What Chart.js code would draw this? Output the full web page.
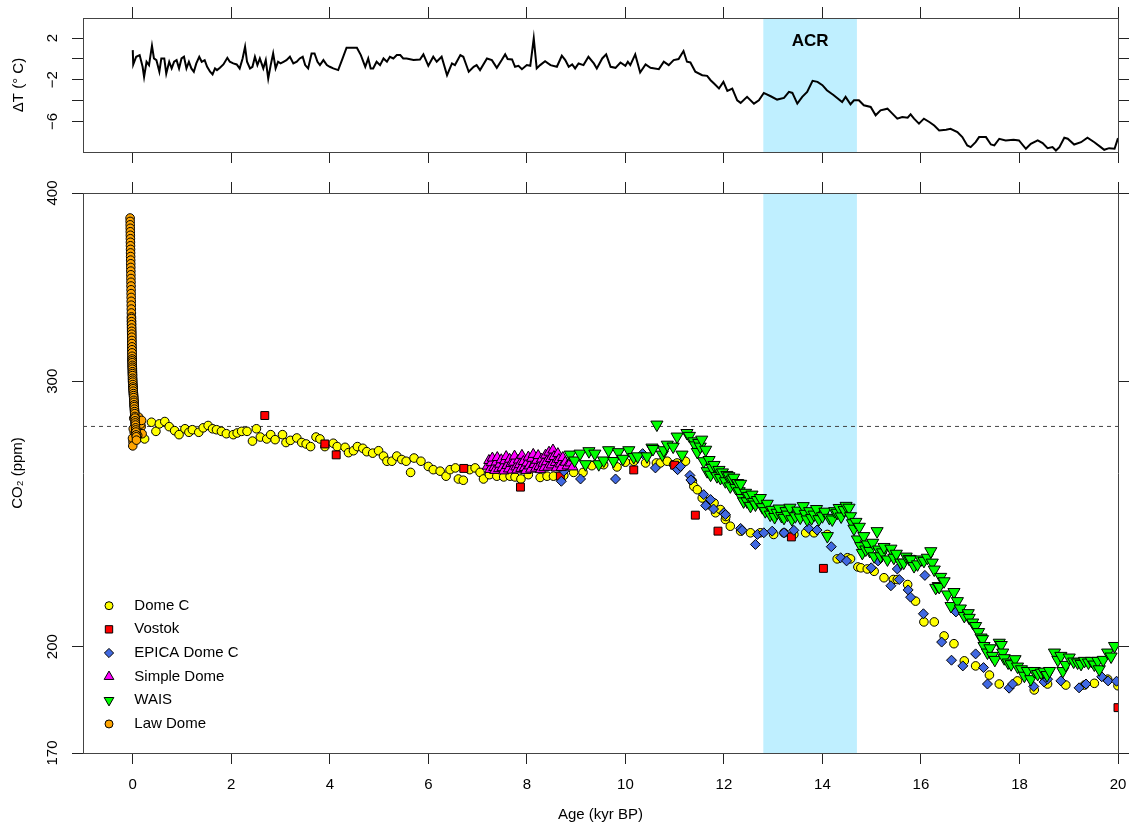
<!DOCTYPE html>
<html>
<head>
<meta charset="utf-8">
<script src="https://cdn.jsdelivr.net/npm/chart.js@4.4.1/dist/chart.umd.min.js"></script>
<style>
html,body{margin:0;padding:0;background:#fff;}
#wrap{position:relative;width:1134px;height:827px;overflow:hidden;}
#cTop{position:absolute;left:0;top:0;width:1134px;height:170px;}
#cBot{position:absolute;left:0;top:170px;width:1134px;height:657px;}
</style>
</head>
<body>
<div id="wrap">
<canvas id="cTop" width="1134" height="170"></canvas>
<canvas id="cBot" width="1134" height="657"></canvas>
</div>
<script>
// ---------------- data (age in kyr BP) ----------------
const xTicks = [0, 2, 4, 6, 8, 10, 12, 14, 16, 18, 20];
const xTickLabels = ['0', '2', '4', '6', '8', '10', '12', '14', '16', '18', '20'];
const co2Ticks = [170, 200, 300, 400];
const co2TickLabels = ['170', '200', '300', '400'];
const tempTicks = [-6, -4, -2, 0, 2];
const tempTickLabels = ['\u22126', '', '\u22122', '', '2'];
const acrRange = [12.8, 14.7];
const preindustrialCO2 = 280;
const seriesNames = ['Dome C', 'Vostok', 'EPICA Dome C', 'Simple Dome', 'WAIS', 'Law Dome'];

// Temperature anomaly (age, dT)
const tempSeries = [
[0.00,0.84],[0.01,-0.54],[0.07,0.20],[0.14,0.36],[0.20,-0.76],[0.23,-1.73],[0.28,-0.28],[0.33,-0.60],[0.39,1.26],[0.43,0.04],
[0.48,-0.12],[0.54,-1.24],[0.58,0.04],[0.64,0.04],[0.68,-1.41],[0.74,-0.28],[0.79,-0.92],[0.84,-0.28],[0.89,-0.12],[0.94,-0.92],
[0.99,0.04],[1.04,0.20],[1.09,-0.92],[1.14,-0.28],[1.19,-0.92],[1.24,-1.24],[1.29,-0.44],[1.35,0.20],[1.40,-0.28],[1.46,-0.12],
[1.51,-0.76],[1.57,-1.24],[1.62,-1.50],[1.67,-0.92],[1.71,-1.08],[1.77,-0.86],[1.84,-0.54],[1.92,0.10],[1.97,-0.28],[2.04,-0.44],
[2.11,-0.54],[2.17,-0.92],[2.23,0.04],[2.28,1.16],[2.32,-0.28],[2.38,-0.92],[2.43,-0.76],[2.48,0.20],[2.53,-0.60],[2.58,0.04],
[2.65,-0.92],[2.70,-0.12],[2.75,-1.89],[2.80,-0.60],[2.85,0.52],[2.90,-0.92],[2.95,-0.28],[3.00,-0.44],[3.06,-0.28],[3.12,-0.12],
[3.19,0.20],[3.26,-0.44],[3.33,-0.28],[3.39,0.04],[3.45,0.20],[3.50,-0.60],[3.56,-0.92],[3.63,0.52],[3.69,0.52],[3.75,-0.28],
[3.80,-0.60],[3.87,-0.12],[3.94,-0.60],[4.00,-0.76],[4.07,-0.92],[4.17,-1.08],[4.26,0.04],[4.34,1.07],[4.48,1.07],[4.55,1.07],
[4.63,0.36],[4.72,-0.76],[4.78,0.04],[4.83,-0.92],[4.88,-0.92],[4.95,-0.28],[5.02,-0.60],[5.09,0.04],[5.16,-0.28],[5.22,0.20],
[5.29,0.04],[5.36,0.36],[5.43,0.36],[5.49,0.04],[5.56,0.04],[5.70,-0.12],[5.83,-0.06],
[5.90,0.43],[6.00,-0.67],[6.10,0.20],[6.17,-0.28],[6.27,0.20],[6.38,-1.57],[6.48,-0.44],[6.54,-0.60],[6.65,0.36],[6.71,0.20],
[6.82,-1.24],[6.92,-0.76],[6.98,-0.60],[7.05,-1.08],[7.19,0.04],[7.29,-0.12],[7.39,-0.86],[7.49,-0.12],[7.56,0.43],[7.61,-0.02],
[7.70,-0.06],[7.76,-0.76],[7.83,-0.67],[7.90,-0.99],[8.00,-0.60],[8.07,-0.67],[8.14,1.97],[8.20,-0.92],[8.27,-0.60],[8.37,-0.22],
[8.48,-0.60],[8.61,-0.76],[8.71,0.30],[8.78,-0.12],[8.85,-0.76],[8.92,-0.54],[8.98,-0.92],[9.05,-0.44],[9.15,-0.60],[9.25,0.20],
[9.36,-0.44],[9.42,-0.92],[9.53,0.04],[9.61,0.43],[9.70,-0.76],[9.80,-0.86],[9.90,-0.35],[10.00,-0.67],[10.05,-0.28],[10.10,-0.60],
[10.20,0.43],[10.30,-1.31],[10.41,-0.54],[10.51,-0.86],[10.68,-0.99],[10.78,-0.28],[10.88,-0.60],[10.98,-0.12],[11.08,-0.02],[11.18,0.75],
[11.25,-0.28],[11.32,-0.35],[11.42,-1.24],[11.56,-1.57],[11.66,-1.63],[11.73,-2.05],
[11.80,-2.37],[11.90,-2.85],[11.99,-2.21],[12.07,-3.08],[12.17,-2.85],[12.27,-3.98],[12.34,-4.23],[12.47,-3.65],[12.61,-4.30],[12.71,-3.98],
[12.81,-3.27],[12.95,-3.59],[13.08,-3.91],[13.22,-3.75],[13.32,-3.17],[13.39,-3.27],[13.49,-4.30],[13.59,-3.65],[13.69,-3.17],[13.80,-2.11],
[13.90,-2.21],[14.00,-2.53],[14.09,-3.01],[14.23,-3.49],[14.40,-4.14],[14.47,-3.65],[14.57,-4.36],[14.64,-3.98],[14.74,-3.98],[14.84,-4.46],
[14.98,-4.62],[15.08,-5.42],[15.18,-4.94],[15.32,-4.78],[15.42,-5.26],[15.52,-5.74],[15.62,-5.58],[15.73,-5.65],[15.79,-5.33],[15.86,-5.74],
[15.96,-6.22],[16.06,-5.74],[16.17,-6.06],[16.27,-6.39],[16.37,-6.87],[16.51,-6.80],[16.60,-6.71],[16.74,-7.03],[16.84,-7.51],[16.94,-8.31],
[17.01,-8.47],[17.11,-7.99],[17.18,-7.51],[17.32,-7.51],[17.42,-8.22],[17.49,-8.31],[17.59,-7.67],[17.72,-7.83],[17.88,-7.77],[17.99,-7.83],
[18.13,-8.63],[18.23,-8.15],[18.37,-7.83],[18.47,-8.09],[18.57,-8.57],[18.67,-8.47],[18.74,-8.80],[18.81,-8.47],[18.91,-7.57],[18.98,-7.67],
[19.11,-8.22],[19.25,-8.00],[19.38,-7.57],[19.52,-8.00],[19.65,-8.47],[19.72,-8.73],[19.82,-8.57],[19.93,-8.63],[20.00,-7.61]
];

// CO2 records (age, ppm)
const domeC = [
[0.24,274.7],[0.38,281.8],[0.47,277.9],[0.54,281.1],[0.65,282.1],[0.74,279.9],[0.85,278.2],[0.94,276.5],[1.06,279.0],[1.14,277.5],
[1.21,278.6],[1.34,277.5],[1.43,279.4],[1.53,280.4],[1.62,279.0],[1.70,278.6],[1.80,277.9],[1.90,276.9],[2.04,276.5],[2.12,277.2],
[2.21,277.9],[2.32,277.9],[2.43,273.8],[2.51,279.0],[2.59,275.5],[2.72,274.7],[2.80,276.5],[2.89,274.4],[3.04,276.5],[3.11,273.2],
[3.20,274.1],[3.33,275.1],[3.43,273.2],[3.52,272.6],[3.61,271.5],[3.72,275.5],[3.80,274.7],[3.90,271.5],[4.07,272.9],[4.15,271.5],
[4.31,271.2],[4.38,269.0],[4.48,269.8],[4.56,271.5],[4.67,270.8],[4.75,269.4],[4.87,268.8],[4.99,269.8],[5.09,267.6],[5.16,265.5],
[5.26,265.5],[5.36,267.6],[5.46,266.2],[5.55,265.5],[5.64,261.0],[5.71,266.8],[5.85,265.5],[6.00,263.4],[6.10,262.1],[6.24,261.5],
[6.36,259.5],[6.44,262.1],[6.55,262.8],[6.61,258.4],[6.71,257.9],[6.84,262.1],[6.95,262.8],[7.05,261.0],[7.12,258.4],[7.24,260.1],
[7.39,259.5],[7.53,259.2],[7.66,259.5],[7.76,259.2],[7.88,258.4],[8.03,260.1],[8.27,259.0],[8.41,259.5],[8.54,259.5],[8.75,259.8],
[8.95,261.0],[9.14,261.0],[9.32,263.7],[9.56,264.1],[9.83,263.2],[10.00,265.1],[10.17,265.5],[10.41,264.8],[10.63,264.8],[10.71,264.8],
[10.85,265.5],[10.98,264.1],[11.05,264.8],[11.22,265.5],[11.36,257.5],[11.39,255.5],[11.46,254.2],[11.56,251.0],[11.66,248.5],[11.80,249.1],
[11.83,245.4],[11.93,246.6],[12.03,242.9],[12.04,244.0],[12.13,240.4],[12.34,238.6],[12.54,238.0],[12.74,238.0],[13.01,237.4],[13.22,238.0],
[13.42,237.4],[13.66,238.0],[13.83,238.0],[14.10,237.4],[14.30,228.7],[14.51,229.1],[14.57,228.7],[14.72,225.9],[14.78,225.6],[14.91,225.2],
[15.05,224.4],[15.25,222.2],[15.44,221.6],[15.52,221.6],[15.73,219.9],[15.89,214.4],[16.06,207.7],[16.27,207.7],[16.47,203.3],[16.67,200.9],
[16.88,195.7],[17.11,194.2],[17.39,191.5],[17.59,188.9],[17.96,189.8],[18.30,187.2],[18.57,188.9],[18.94,188.6],[19.32,188.6],[19.52,189.1],
[19.79,190.3],[20.00,188.4]
];
const vostok = [
[2.68,284.7],[3.90,272.6],[4.13,268.1],[6.72,262.6],[7.87,255.2],[8.68,259.5],[10.17,262.0],[11.00,263.9],[11.42,244.5],[11.88,238.6],
[13.37,236.5],[14.02,225.4],[20.00,182.2]
];
const epicaDomeC = [
[8.70,257.5],[8.75,261.5],[9.09,258.4],[9.80,258.4],[10.35,268.6],[10.61,262.8],[11.06,262.1],[11.12,263.4],[11.31,259.8],[11.33,258.0],
[11.59,252.3],[11.63,248.1],[11.73,250.4],[11.79,246.8],[12.00,245.4],[12.03,244.7],[12.34,239.6],[12.37,238.9],[12.64,233.8],[12.68,237.4],
[12.81,238.0],[12.98,238.6],[13.22,238.0],[13.42,238.9],[13.72,239.6],[13.89,239.0],[14.18,233.0],[14.37,229.1],[14.49,228.0],[14.99,225.6],
[15.13,228.0],[15.39,219.5],[15.52,225.2],[15.56,221.6],[15.74,218.1],[15.79,215.7],[16.05,210.3],[16.08,223.0],[16.42,201.4],[16.62,195.9],
[16.71,210.9],[16.85,194.2],[17.11,197.8],[17.27,193.7],[17.35,188.9],[17.79,187.7],[17.86,188.9],[18.29,188.2],[18.50,189.5],[18.57,190.3],
[18.84,189.8],[19.21,187.8],[19.35,188.9],[19.67,191.0],[19.80,189.8],[19.97,189.7]
];
const simpleDome = [
[7.20,263.5],[7.23,265.8],[7.25,262.2],[7.28,264.9],[7.30,266.8],[7.33,263.0],[7.35,261.8],[7.38,265.2],[7.40,267.0],[7.43,262.5],
[7.45,264.3],[7.48,266.1],[7.50,262.9],[7.53,261.6],[7.55,265.7],[7.58,267.4],[7.60,263.8],[7.63,262.4],[7.65,266.3],[7.68,264.6],
[7.70,261.9],[7.73,265.1],[7.75,267.6],[7.78,263.2],[7.80,262.0],[7.83,266.0],[7.85,264.1],[7.88,262.6],[7.90,267.9],[7.93,265.4],
[7.95,263.0],[7.98,261.8],[8.00,264.8],[8.03,267.2],[8.05,263.6],[8.08,262.3],[8.10,266.7],[8.13,268.3],[8.15,264.2],[8.18,262.7],
[8.20,265.9],[8.23,267.8],[8.25,263.4],[8.28,262.1],[8.30,266.4],[8.33,264.7],[8.35,262.9],[8.38,268.0],[8.40,265.3],[8.43,263.1],
[8.45,269.2],[8.48,266.6],[8.50,264.0],[8.53,270.1],[8.55,267.4],[8.58,265.0],[8.60,262.8],[8.63,268.6],[8.65,266.2],[8.68,264.4],
[8.70,263.0],[8.73,267.0],[8.78,265.1],[8.82,263.6],[8.88,264.8],[8.93,263.2]
];
const wais = [
[8.88,268.2],[8.97,265.8],[9.08,268.6],[9.19,264.3],[9.26,269.6],[9.38,268.6],[9.46,264.3],[9.56,265.8],[9.66,270.0],[9.76,265.6],
[9.86,269.2],[9.95,266.5],[10.07,270.0],[10.17,267.2],[10.25,267.5],[10.44,267.5],[10.54,271.1],[10.56,270.5],[10.64,280.8],[10.75,268.2],
[10.78,270.0],[10.85,272.3],[10.97,271.5],[11.05,275.7],[11.15,268.2],[11.25,277.2],[11.30,276.0],[11.39,273.7],[11.42,272.0],[11.46,269.3],
[11.49,273.0],[11.52,271.5],[11.55,274.4],[11.59,265.5],[11.63,270.2],[11.66,261.5],[11.70,266.0],[11.73,260.1],[11.76,262.8],[11.80,264.0],
[11.86,259.5],[11.90,262.0],[11.93,258.8],[11.97,261.0],[12.03,257.5],[12.06,260.0],[12.10,259.5],[12.13,255.5],[12.17,258.2],[12.20,258.9],
[12.24,254.9],[12.28,256.8],[12.31,253.6],[12.34,256.5],[12.37,251.0],[12.40,249.7],[12.44,253.0],[12.47,249.7],[12.50,251.8],[12.54,248.0],
[12.57,252.3],[12.60,249.5],[12.64,248.5],[12.68,250.2],[12.74,251.0],[12.78,247.5],[12.84,246.0],[12.88,248.8],[12.94,244.7],[12.98,246.5],
[13.03,243.8],[13.08,245.4],[13.12,247.0],[13.17,244.2],[13.22,243.5],[13.26,246.0],[13.29,244.7],[13.34,247.3],[13.38,243.0],[13.45,244.1],
[13.50,246.2],[13.55,243.6],[13.61,247.9],[13.65,245.0],[13.69,242.9],[13.74,246.0],[13.78,243.4],[13.83,244.7],[13.88,246.8],[13.93,243.0],
[14.00,244.1],[14.05,245.8],[14.10,236.8],[14.14,243.5],[14.20,242.9],[14.25,246.0],[14.30,245.4],[14.34,247.2],[14.38,244.0],[14.44,246.4],
[14.48,248.0],[14.54,247.3],[14.57,244.1],[14.61,241.5],[14.64,239.5],[14.68,242.0],[14.71,235.6],[14.75,240.2],[14.78,233.2],[14.81,230.8],
[14.84,236.8],[14.88,232.0],[14.91,233.8],[14.96,231.5],[15.02,234.4],[15.05,229.6],[15.11,238.6],[15.14,232.0],[15.18,229.6],[15.22,231.0],
[15.25,232.9],[15.32,228.5],[15.39,232.3],[15.45,229.1],[15.50,230.5],[15.59,227.4],[15.65,227.4],[15.70,229.5],[15.76,228.7],[15.79,228.5],
[15.86,226.2],[15.93,226.8],[16.00,228.5],[16.06,228.0],[16.13,229.1],[16.20,231.4],[16.23,227.4],[16.27,225.0],[16.30,218.8],[16.35,219.4],
[16.37,219.1],[16.40,222.5],[16.47,221.0],[16.54,216.6],[16.61,212.8],[16.67,217.4],[16.74,214.4],[16.80,212.0],[16.88,209.6],[16.96,210.5],
[16.98,209.0],[17.05,207.5],[17.11,206.4],[17.17,204.5],[17.22,202.8],[17.25,202.3],[17.28,200.2],[17.35,198.2],[17.40,199.5],[17.45,197.2],
[17.50,196.0],[17.59,201.2],[17.63,200.5],[17.66,198.2],[17.69,196.5],[17.77,195.2],[17.83,194.7],[17.91,196.2],[17.96,194.0],[18.04,193.2],
[18.10,191.3],[18.16,192.7],[18.23,190.3],[18.30,192.7],[18.37,191.8],[18.44,192.2],[18.50,192.5],[18.56,191.5],[18.61,192.7],[18.71,198.2],
[18.78,196.0],[18.84,197.2],[18.88,192.7],[18.94,194.5],[19.01,196.7],[19.10,195.5],[19.18,195.2],[19.25,194.8],[19.32,195.7],[19.40,195.2],
[19.46,195.7],[19.52,194.6],[19.59,195.7],[19.62,193.2],[19.70,196.0],[19.79,198.2],[19.86,197.0],[19.93,200.2]
];
const lawDome = [
[-0.054,385],[-0.053,383],[-0.052,381],[-0.051,379],[-0.050,377],[-0.049,375],[-0.048,373],[-0.047,371],[-0.046,369],[-0.045,367],
[-0.044,365],[-0.043,363],[-0.042,361],[-0.041,359],[-0.040,357],[-0.039,355],[-0.038,353],[-0.037,351],[-0.036,349],[-0.035,347],
[-0.034,345],[-0.033,343],[-0.032,341],[-0.031,339],[-0.030,337],[-0.029,335],[-0.028,333],[-0.027,331],[-0.026,329],[-0.025,327.5],
[-0.024,326],[-0.023,324.5],[-0.022,323],[-0.021,321.5],[-0.020,320],[-0.019,318.5],[-0.018,317],[-0.017,315.5],[-0.016,314],[-0.015,312.5],
[-0.014,311],[-0.013,310],[-0.012,309],[-0.011,308],[-0.010,307],[-0.009,306],[-0.008,305],[-0.007,304],[-0.006,303],[-0.005,302],
[-0.004,301],[-0.003,300],[0.000,299],[0.003,298],[0.006,297],[0.009,296],[0.012,295],[0.015,294],[0.018,293],[0.021,292],
[0.024,291],[0.027,290],[0.030,289],[0.033,288],[0.036,287],[0.039,286],[0.042,285],[0.045,284],[0.048,283],[0.051,282],
[0.054,281],[0.057,280],[0.060,279],[0.063,278],[0.066,277],[0.069,276],[0.02,283.5],[0.05,281.2],[0.07,279.6],[0.09,282.8],
[0.11,278.4],[0.13,280.9],[0.15,277.7],[0.17,279.9],[0.19,276.9],[0.04,284.6],[0.10,276.2],[0.14,282.1],[0.03,277.5],[0.08,275.4],
[0.12,284.0],[0.16,281.0],[0.01,279.0],[0.005,273.5],[-0.005,275.0],[0.0,271.8],[0.06,278.2],[0.18,282.6],
[-0.026,330.2],[-0.025,328.6],[-0.024,327.1],[-0.023,325.4],[-0.022,323.8],[-0.021,322.4],[-0.020,320.9],[-0.019,319.3],[-0.018,317.8],[-0.017,316.2],
[-0.016,314.8],[-0.015,313.3],[-0.014,311.7],[-0.013,310.4],[-0.012,309.5],[-0.011,308.6],[-0.010,307.4],[-0.009,306.5],[-0.008,305.6],[-0.007,304.4],
[-0.006,303.5],[-0.005,302.6],[-0.004,301.4],[-0.003,300.5],[-0.002,299.6],[0.001,298.5],[0.004,297.4],[0.007,296.6],[0.010,295.5],[0.013,294.4],
[0.016,293.5],[0.019,292.6],[0.022,291.4],[0.025,290.5],[0.028,289.4],[0.031,288.6],[0.034,287.5],[0.037,286.4],[0.040,285.5],[0.043,284.3],
[0.046,283.6],[0.049,282.4],[0.052,281.5],[0.055,280.6],[0.058,279.4],[0.061,278.5],[0.064,277.6],[0.067,276.4],[0.072,275.6],[0.075,274.2]
];

// ---------------- rendering ----------------
const FONT = '"Liberation Sans", Arial, Helvetica, sans-serif';
Chart.defaults.font.family = FONT;
Chart.defaults.font.size = 15;
Chart.defaults.color = '#000';

const X_MIN = -1.01, X_MAX = 20;
const AX = '#444', TK = '#222';

const toXY = arr => arr.map(p => ({x: p[0], y: p[1]}));
const fixBox = (prop, v) => s => { s[prop] = v; s.paddingTop = 0; s.paddingBottom = 0; s.paddingLeft = 0; s.paddingRight = 0; };
const setTicks = vals => s => { s.ticks = vals.map(v => ({value: v})); };
const labelOf = (vals, labels) => v => { const i = vals.indexOf(v); return i >= 0 ? labels[i] : ''; };
const gridOpt = {drawOnChartArea: false, drawTicks: true, tickLength: 11, color: TK, lineWidth: 1};
const borderOpt = {display: true, color: AX, width: 1};

const acrShade = {
  id: 'acrShade',
  beforeDraw(chart) {
    const {ctx, chartArea: a, scales} = chart;
    const x0 = scales.x.getPixelForValue(acrRange[0]);
    const x1 = scales.x.getPixelForValue(acrRange[1]);
    ctx.save();
    ctx.fillStyle = '#BFEFFF';
    ctx.fillRect(x0, a.top, x1 - x0, a.bottom - a.top);
    ctx.restore();
  }
};

const acrLabel = {
  id: 'acrLabel',
  afterDatasetsDraw(chart) {
    const {ctx, chartArea: a, scales} = chart;
    const xm = (scales.x.getPixelForValue(acrRange[0]) + scales.x.getPixelForValue(acrRange[1])) / 2;
    ctx.save();
    ctx.font = 'bold 17px ' + FONT;
    ctx.fillStyle = '#000';
    ctx.textAlign = 'center';
    ctx.textBaseline = 'middle';
    ctx.fillText('ACR', xm, a.top + 23);
    ctx.restore();
  }
};

function drawSymbol(ctx, d, x, y) {
  ctx.fillStyle = d.backgroundColor;
  ctx.strokeStyle = d.borderColor;
  ctx.lineWidth = d.borderWidth;
  if (Chart.helpers && Chart.helpers.drawPoint) {
    Chart.helpers.drawPoint(ctx, {pointStyle: d.pointStyle, rotation: d.rotation || 0, radius: d.legendRadius, borderWidth: d.borderWidth}, x, y);
    return;
  }
  ctx.beginPath();
  ctx.arc(x, y, d.legendRadius, 0, Math.PI * 2);
  ctx.fill(); ctx.stroke();
}

const insideLegend = {
  id: 'insideLegend',
  afterDraw(chart) {
    const {ctx, chartArea: a} = chart;
    const items = chart.data.datasets.filter(d => d.inLegend);
    ctx.save();
    ctx.font = '15px ' + FONT;
    ctx.textBaseline = 'middle';
    ctx.textAlign = 'left';
    items.forEach((d, i) => {
      const y = a.bottom - 147.3 + i * 23.65;
      drawSymbol(ctx, d, a.left + 26, y);
      ctx.fillStyle = '#000';
      ctx.fillText(d.label, a.left + 51.3, y);
    });
    ctx.restore();
  }
};

function pointSet(label, data, style, fill, radius, legendRadius, order, rotation) {
  return {
    label: label, data: toXY(data), inLegend: true, legendRadius: legendRadius,
    pointStyle: style, rotation: rotation || 0,
    pointRadius: radius, pointBorderWidth: 1, borderWidth: 1,
    backgroundColor: fill, borderColor: '#000',
    pointBackgroundColor: fill, pointBorderColor: '#000',
    showLine: false, order: order, clip: 0
  };
}

// ---------- top panel: temperature ----------
new Chart(document.getElementById('cTop'), {
  type: 'scatter',
  data: {
    datasets: [{
      label: '\u0394T', data: toXY(tempSeries), showLine: true, tension: 0,
      borderColor: '#000', borderWidth: 2, pointRadius: 0, clip: 0
    }]
  },
  options: {
    responsive: false, animation: false, devicePixelRatio: 1, events: [],
    layout: {padding: 0},
    plugins: {legend: {display: false}, tooltip: {enabled: false}},
    scales: {
      x: {type: 'linear', position: 'bottom', min: X_MIN, max: X_MAX,
          afterBuildTicks: setTicks(xTicks), afterFit: fixBox('height', 18),
          grid: gridOpt, border: borderOpt, ticks: {display: false}},
      x2: {type: 'linear', position: 'top', min: X_MIN, max: X_MAX,
          afterBuildTicks: setTicks(xTicks), afterFit: fixBox('height', 18),
          grid: gridOpt, border: borderOpt, ticks: {display: false}},
      y: {type: 'linear', position: 'left', min: -8.94, max: 3.92,
          afterBuildTicks: setTicks(tempTicks), afterFit: fixBox('width', 83),
          grid: gridOpt, border: borderOpt,
          ticks: {autoSkip: false, minRotation: 90, maxRotation: 90, crossAlign: 'center', padding: 11,
                  color: '#000', font: {size: 15}, callback: labelOf(tempTicks, tempTickLabels)},
          title: {display: true, text: '\u0394T (\u00b0 C)', color: '#000', font: {size: 15}, padding: {top: 10, bottom: 0}}},
      y2: {type: 'linear', position: 'right', min: -8.94, max: 3.92,
          afterBuildTicks: setTicks(tempTicks), afterFit: fixBox('width', 16),
          grid: gridOpt, border: borderOpt, ticks: {display: false}}
    }
  },
  plugins: [acrShade, acrLabel]
});

// ---------- bottom panel: CO2 ----------
new Chart(document.getElementById('cBot'), {
  type: 'scatter',
  data: {
    datasets: [
      pointSet(seriesNames[0], domeC, 'circle', '#FFFF00', 4.3, 4.0, 6),
      pointSet(seriesNames[1], vostok, 'rect', '#FF0000', 5.6, 5.2, 5),
      pointSet(seriesNames[2], epicaDomeC, 'rectRot', '#4169E1', 5.0, 4.6, 4),
      pointSet(seriesNames[3], simpleDome, 'triangle', '#FF00FF', 6.0, 5.6, 3),
      pointSet(seriesNames[4], wais, 'triangle', '#00FF00', 7.0, 5.6, 2, 180),
      pointSet(seriesNames[5], lawDome, 'circle', '#FFA500', 4.3, 4.0, 1),
      {label: 'ref', data: [{x: X_MIN, y: preindustrialCO2}, {x: X_MAX, y: preindustrialCO2}],
       showLine: true, borderColor: '#444', borderWidth: 1, borderDash: [4, 4], pointRadius: 0, order: 10, clip: 0}
    ]
  },
  options: {
    responsive: false, animation: false, devicePixelRatio: 1, events: [],
    layout: {padding: 0},
    plugins: {legend: {display: false}, tooltip: {enabled: false}},
    scales: {
      x: {type: 'linear', position: 'bottom', min: X_MIN, max: X_MAX,
          afterBuildTicks: setTicks(xTicks), afterFit: fixBox('height', 74),
          grid: gridOpt, border: borderOpt,
          ticks: {autoSkip: false, maxRotation: 0, padding: 12, color: '#000', font: {size: 15},
                  callback: labelOf(xTicks, xTickLabels)},
          title: {display: true, text: 'Age (kyr BP)', color: '#000', font: {size: 15}, padding: {top: 0, bottom: 3}}},
      x2: {type: 'linear', position: 'top', min: X_MIN, max: X_MAX,
          afterBuildTicks: setTicks(xTicks), afterFit: fixBox('height', 23),
          grid: gridOpt, border: borderOpt, ticks: {display: false}},
      y: {type: 'logarithmic', position: 'left', min: 170, max: 400,
          afterBuildTicks: setTicks(co2Ticks), afterFit: fixBox('width', 83),
          grid: gridOpt, border: borderOpt,
          ticks: {autoSkip: false, minRotation: 90, maxRotation: 90, crossAlign: 'center', padding: 7,
                  color: '#000', font: {size: 15}, callback: labelOf(co2Ticks, co2TickLabels)},
          title: {display: true, text: 'CO\u2082 (ppm)', color: '#000', font: {size: 15}, padding: {top: 9, bottom: 0}}},
      y2: {type: 'logarithmic', position: 'right', min: 170, max: 400,
          afterBuildTicks: setTicks(co2Ticks), afterFit: fixBox('width', 16),
          grid: gridOpt, border: borderOpt, ticks: {display: false}}
    }
  },
  plugins: [acrShade, insideLegend]
});
</script>
</body>
</html>
